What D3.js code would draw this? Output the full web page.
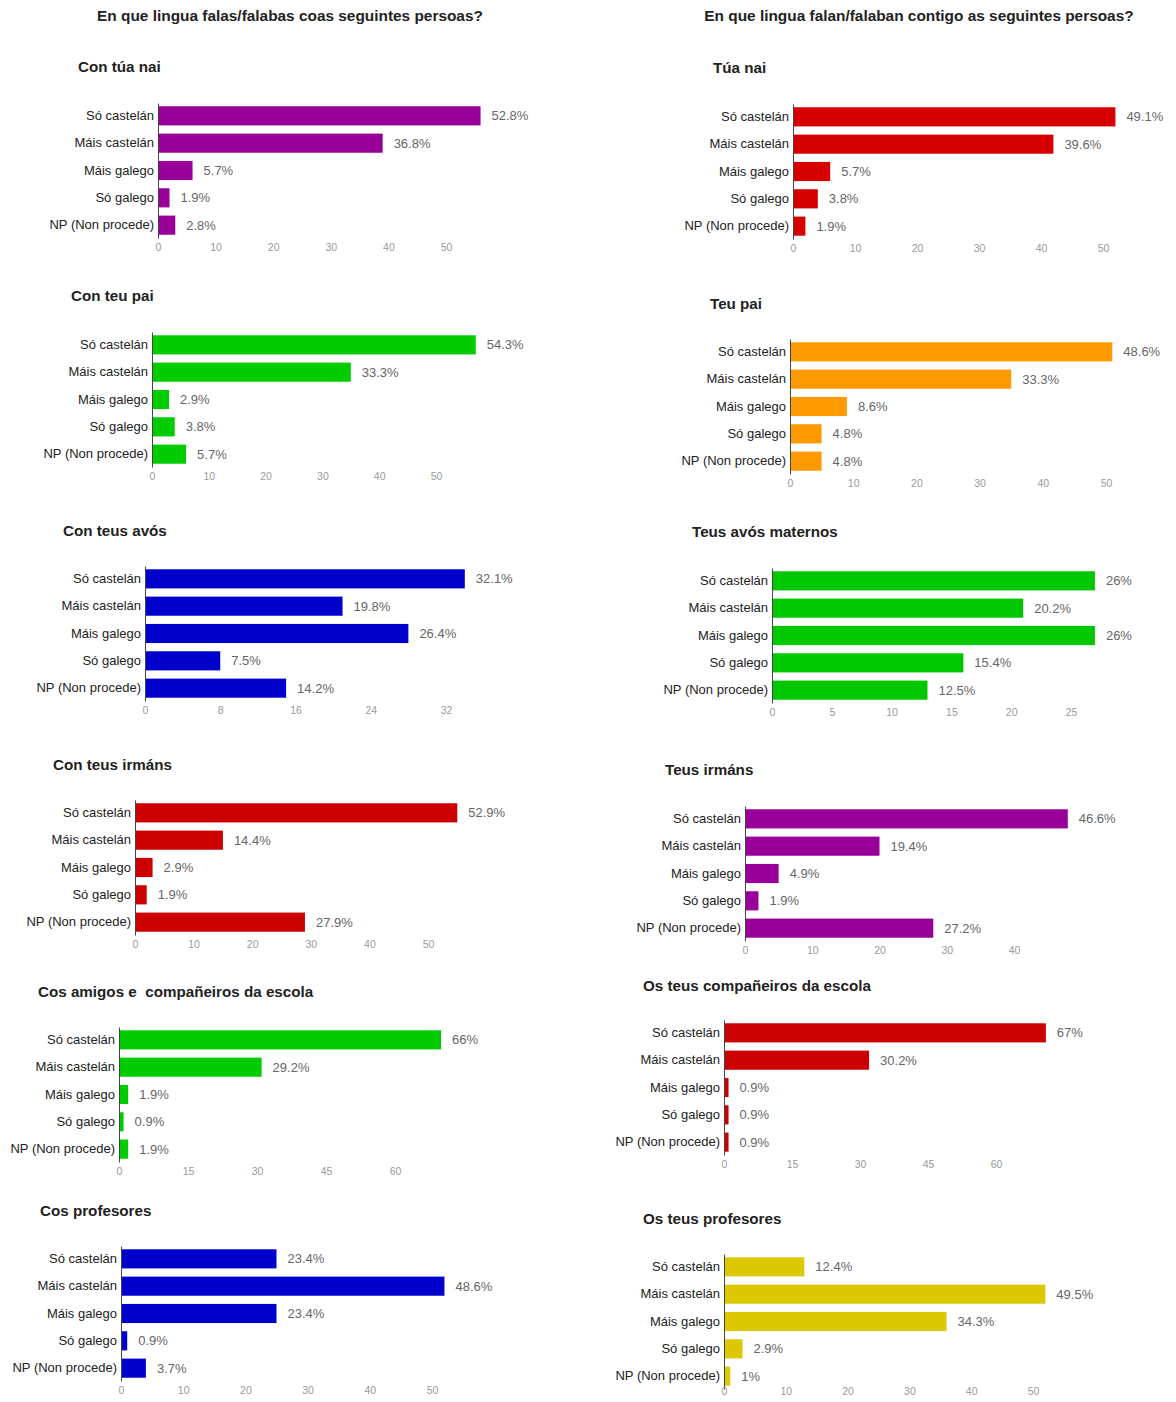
<!DOCTYPE html>
<html>
<head>
<meta charset="utf-8">
<script src="https://cdn.jsdelivr.net/npm/d3@7"></script>
<style>
  html, body { margin: 0; padding: 0; background: #fff; }
  svg { display: block; font-family: "Liberation Sans", Arial, sans-serif; }
  .ptitle { white-space: pre; }
</style>
</head>
<body>
<svg id="chart" width="1176" height="1402"></svg>
<script>
// ---------- DATA ----------
const mainTitles = [
  "En que lingua falas/falabas coas seguintes persoas?",
  "En que lingua falan/falaban contigo as seguintes persoas?"
];
const categories = ["Só castelán", "Máis castelán", "Máis galego", "Só galego", "NP (Non procede)"];
const panelTitles = [
  "Con túa nai", "Túa nai",
  "Con teu pai", "Teu pai",
  "Con teus avós", "Teus avós maternos",
  "Con teus irmáns", "Teus irmáns",
  "Cos amigos e  compañeiros da escola", "Os teus compañeiros da escola",
  "Cos profesores", "Os teus profesores"
];
// number of responses (axis values)
const counts = [
  [56, 39, 6, 2, 3],
  [52, 42, 6, 4, 2],
  [57, 35, 3, 4, 6],
  [51, 35, 9, 5, 5],
  [34, 21, 28, 8, 15],
  [27, 21, 27, 16, 13],
  [55, 15, 3, 2, 29],
  [48, 20, 5, 2, 28],
  [70, 31, 2, 1, 2],
  [71, 32, 1, 1, 1],
  [25, 52, 25, 1, 4],
  [13, 52, 36, 3, 1]
];
// percentage labels
const percents = [
  [52.8, 36.8, 5.7, 1.9, 2.8],
  [49.1, 39.6, 5.7, 3.8, 1.9],
  [54.3, 33.3, 2.9, 3.8, 5.7],
  [48.6, 33.3, 8.6, 4.8, 4.8],
  [32.1, 19.8, 26.4, 7.5, 14.2],
  [26, 20.2, 26, 15.4, 12.5],
  [52.9, 14.4, 2.9, 1.9, 27.9],
  [46.6, 19.4, 4.9, 1.9, 27.2],
  [66, 29.2, 1.9, 0.9, 1.9],
  [67, 30.2, 0.9, 0.9, 0.9],
  [23.4, 48.6, 23.4, 0.9, 3.7],
  [12.4, 49.5, 34.3, 2.9, 1]
];
const tickValues = [
  [0, 10, 20, 30, 40, 50],
  [0, 10, 20, 30, 40, 50],
  [0, 10, 20, 30, 40, 50],
  [0, 10, 20, 30, 40, 50],
  [0, 8, 16, 24, 32],
  [0, 5, 10, 15, 20, 25],
  [0, 10, 20, 30, 40, 50],
  [0, 10, 20, 30, 40],
  [0, 15, 30, 45, 60],
  [0, 15, 30, 45, 60],
  [0, 10, 20, 30, 40, 50],
  [0, 10, 20, 30, 40, 50]
];

// ---------- STYLE / LAYOUT ----------
const colors = [
  "#990099", "#d60000",
  "#00cc00", "#ff9900",
  "#0000cc", "#00c800",
  "#cc0000", "#990099",
  "#00cc00", "#cc0000",
  "#0000cc", "#dcc800"
];
const layout = [
  { x0: 158, xEnd: 446, top: 103, tx: 78, ty: 72 },
  { x0: 793, xEnd: 1103, top: 104, tx: 713, ty: 73 },
  { x0: 152, xEnd: 436, top: 332, tx: 71, ty: 301 },
  { x0: 790, xEnd: 1106, top: 339, tx: 710, ty: 309 },
  { x0: 145, xEnd: 446, top: 566, tx: 63, ty: 536 },
  { x0: 772, xEnd: 1071, top: 568, tx: 692, ty: 537 },
  { x0: 135, xEnd: 428, top: 800, tx: 53, ty: 770 },
  { x0: 745, xEnd: 1014, top: 806, tx: 665, ty: 775 },
  { x0: 119, xEnd: 395, top: 1027, tx: 38, ty: 997 },
  { x0: 724, xEnd: 996, top: 1020, tx: 643, ty: 991 },
  { x0: 121, xEnd: 432, top: 1246, tx: 40, ty: 1216 },
  { x0: 724, xEnd: 1033, top: 1254, tx: 643, ty: 1224 }
];
const mainTitlePos = [{ x: 290, y: 21 }, { x: 919, y: 21 }];
const pageH = 1402;

const svg = d3.select("#chart");

svg.selectAll("text.main")
  .data(mainTitles)
  .join("text")
  .attr("class", "main")
  .attr("x", (d, i) => mainTitlePos[i].x)
  .attr("y", (d, i) => mainTitlePos[i].y)
  .attr("text-anchor", "middle")
  .attr("font-size", 15.4)
  .attr("font-weight", "bold")
  .attr("fill", "#222")
  .text(d => d);

panelTitles.forEach((title, i) => {
  const L = layout[i];
  const maxTick = tickValues[i][tickValues[i].length - 1];
  const x = d3.scaleLinear().domain([0, maxTick]).range([L.x0, L.xEnd]);
  const y = d3.scaleBand().domain(categories)
    .range([L.top, L.top + 135]).paddingInner(0.3).paddingOuter(0.12);

  const g = svg.append("g");

  g.append("text")
    .attr("class", "ptitle")
    .attr("x", L.tx).attr("y", L.ty)
    .attr("font-size", 15.2)
    .attr("font-weight", "bold")
    .attr("fill", "#222")
    .text(title);

  const rows = categories.map((c, j) => ({ cat: c, n: counts[i][j], p: percents[i][j] }));

  g.selectAll("rect")
    .data(rows)
    .join("rect")
    .attr("x", x(0))
    .attr("y", d => y(d.cat))
    .attr("width", d => x(d.n) - x(0))
    .attr("height", y.bandwidth())
    .attr("fill", colors[i]);

  g.selectAll("text.val")
    .data(rows)
    .join("text")
    .attr("class", "val")
    .attr("x", d => x(d.n) + 11)
    .attr("y", d => y(d.cat) + y.bandwidth() / 2)
    .attr("dy", "0.35em")
    .attr("font-size", 13)
    .attr("fill", "#666")
    .text(d => d.p + "%");

  // category axis
  const ya = g.append("g")
    .attr("transform", `translate(${x(0)},0)`)
    .call(d3.axisLeft(y).tickSize(0).tickPadding(4).tickSizeOuter(0));
  ya.select(".domain").attr("stroke", "#444");
  ya.selectAll("text").attr("font-size", 13).attr("fill", "#222")
    .attr("font-family", "Liberation Sans, Arial, sans-serif");

  // value axis
  const axisY = Math.min(L.top + 137, pageH - 18);
  const xa = g.append("g")
    .attr("transform", `translate(0,${axisY})`)
    .call(d3.axisBottom(x).tickValues(tickValues[i]).tickSize(0).tickPadding(4));
  xa.select(".domain").remove();
  xa.selectAll("text").attr("font-size", 10.5).attr("fill", "#999")
    .attr("font-family", "Liberation Sans, Arial, sans-serif");
});
</script>
</body>
</html>
